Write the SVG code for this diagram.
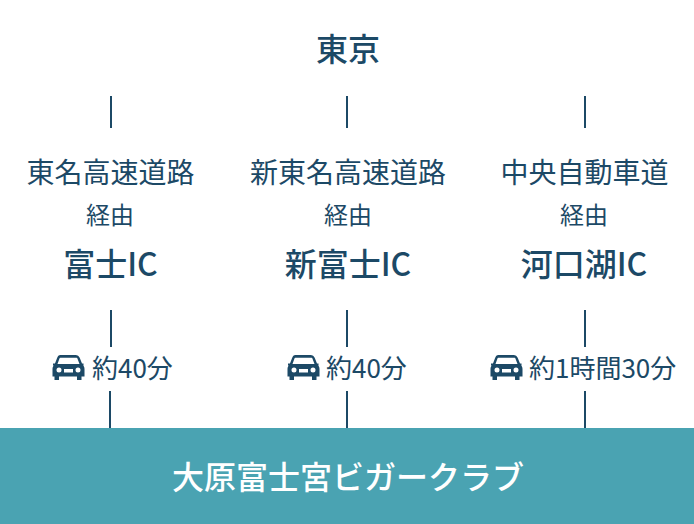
<svg xmlns="http://www.w3.org/2000/svg" width="694" height="524" viewBox="0 0 694 524">
<style>
text{font-family:"Noto Sans CJK JP","Noto Sans",sans-serif;fill:#1c4966;text-anchor:middle}
.t{font-size:32px;font-weight:500}
.r{font-size:28px}
.v{font-size:24px}
.ic{font-size:32px;font-weight:500}
.m{font-size:26px;text-anchor:start}
.l line{stroke:#1c4966;stroke-width:2}
.g{font-size:32px;font-weight:500;fill:#fff}
</style>
<defs>
<g id="car"><path fill="#1c4966" fill-rule="evenodd" d="M8 0H23C25 0 26.500 1 27.300 3L29.500 8.500H31V10.500H30.800C31.500 11.500 32 12.500 32 14V21.500H29V25H24.500V21.500H6.500V25H2V21.500H0V14C0 12.500 .5 11.500 1.200 10.500H.5V8.500H2.500L4.600 3C5.400 1 6 0 8 0ZM8.500 2.800C7.500 2.800 7 3.300 6.700 4.200L5 9H27L25.200 4.200C24.900 3.300 24.400 2.800 23.500 2.800ZM6.500 12.500A2.500 2.500 0 1 0 6.500 17.500A2.500 2.500 0 1 0 6.500 12.500ZM25.500 12.500A2.500 2.500 0 1 0 25.500 17.500A2.500 2.500 0 1 0 25.500 12.500ZM11.500 14V17.500H20.500V14Z"/></g>
</defs>
<g id="connectors" class="l">
<line x1="111" y1="96" x2="111" y2="128"/><line x1="347" y1="96" x2="347" y2="128"/><line x1="585" y1="96" x2="585" y2="128"/>
<line x1="111" y1="310" x2="111" y2="347"/><line x1="347" y1="310" x2="347" y2="347"/><line x1="585" y1="310" x2="585" y2="347"/>
<line x1="110" y1="391" x2="110" y2="428"/><line x1="347" y1="391" x2="347" y2="428"/><line x1="585" y1="391" x2="585" y2="428"/>
</g>
<g id="tokyo"><text class="t" x="348" y="61">東京</text></g>
<g id="route1"><text class="r" x="110.500" y="183">東名高速道路</text><text class="v" x="110" y="224">経由</text><text class="ic" x="110.500" y="276">富士IC</text></g>
<g id="route2"><text class="r" x="348" y="183">新東名高速道路</text><text class="v" x="348" y="224">経由</text><text class="ic" x="348" y="276">新富士IC</text></g>
<g id="route3"><text class="r" x="584.500" y="183">中央自動車道</text><text class="v" x="584" y="224">経由</text><text class="ic" x="584" y="276">河口湖IC</text></g>
<g id="time1"><use href="#car" x="52.500" y="355"/><text class="m" x="92" y="378">約40分</text></g>
<g id="time2"><use href="#car" x="287.500" y="355"/><text class="m" x="326" y="378">約40分</text></g>
<g id="time3"><use href="#car" x="490.500" y="355"/><text class="m" x="529" y="378">約1時間30分</text></g>
<g id="destination"><rect x="0" y="428" width="694" height="96" fill="#4aa3b2"/><text class="g" x="348" y="489">大原富士宮ビガークラブ</text></g>
</svg>
